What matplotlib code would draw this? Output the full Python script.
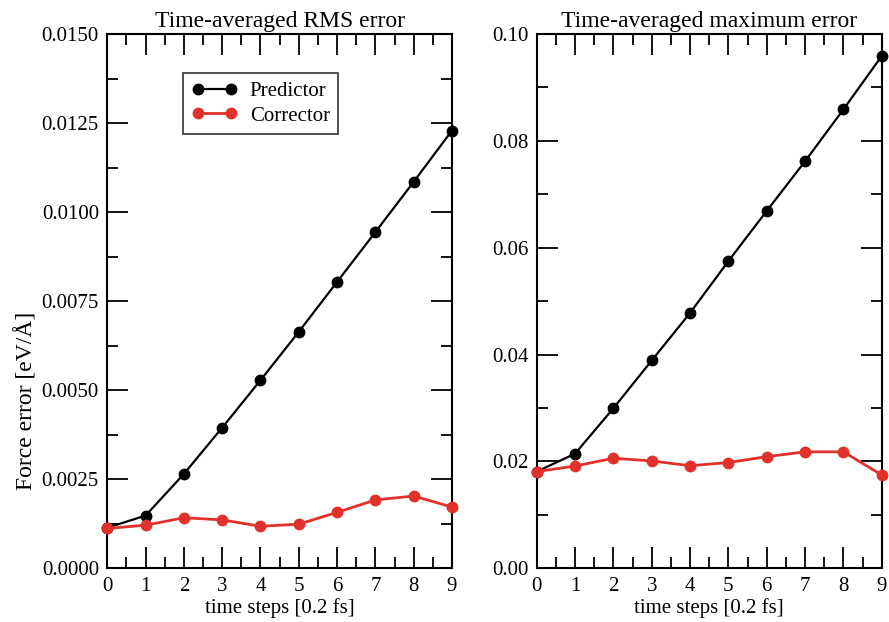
import numpy as np
import matplotlib.pyplot as plt
from matplotlib.ticker import MultipleLocator, FormatStrFormatter

plt.rcParams['font.family'] = ['Liberation Serif', 'DejaVu Serif']

steps = np.arange(10)

# time-averaged RMS force error [eV/A]
rms_predictor = [0.00114, 0.00148, 0.00265, 0.00395, 0.00528, 0.00664, 0.00804, 0.00944, 0.01085, 0.01229]
rms_corrector = [0.00112, 0.00121, 0.00142, 0.00136, 0.00118, 0.00124, 0.00157, 0.00192, 0.00203, 0.00172]

# time-averaged maximum force error [eV/A]
max_predictor = [0.0181, 0.02145, 0.02995, 0.0389, 0.0478, 0.0575, 0.0669, 0.0762, 0.0859, 0.0959]
max_corrector = [0.0181, 0.01915, 0.0206, 0.0201, 0.0192, 0.0198, 0.0209, 0.0218, 0.0218, 0.01746]

RED = '#e2312a'
FS = 15

fig = plt.figure(figsize=(8.89, 6.22), dpi=100)
ax1 = fig.add_axes([0.1207, 0.0863, 0.3877, 0.859])
ax2 = fig.add_axes([0.6037, 0.0863, 0.3882, 0.859])


def draw(ax, pred, corr, ymax, major, fmt, title):
    ax.plot(steps, pred, color='black', lw=1.6, marker='o', ms=7.5, clip_on=False, zorder=3, label='Predictor')
    ax.plot(steps, corr, color=RED, lw=2, marker='o', ms=7.5, clip_on=False, zorder=4, label='Corrector')
    ax.set_xlim(0, 9)
    ax.set_ylim(0, ymax)
    ax.xaxis.set_major_locator(MultipleLocator(1))
    ax.xaxis.set_minor_locator(MultipleLocator(0.5))
    ax.yaxis.set_major_locator(MultipleLocator(major))
    ax.yaxis.set_minor_locator(MultipleLocator(major / 2))
    ax.yaxis.set_major_formatter(FormatStrFormatter(fmt))
    ax.tick_params(which='both', direction='in', top=True, right=True, width=1.3, labelsize=FS)
    ax.tick_params(which='major', length=15, pad=6)
    ax.tick_params(which='minor', length=8)
    for s in ax.spines.values():
        s.set_linewidth(1.5)
    ax.set_xlabel('time steps [0.2 fs]', fontsize=FS, labelpad=2)
    ax.set_title(title, fontsize=FS + 2, pad=5)


draw(ax1, rms_predictor, rms_corrector, 0.015, 0.0025, '%.4f', 'Time-averaged RMS error')
draw(ax2, max_predictor, max_corrector, 0.10, 0.02, '%.2f', 'Time-averaged maximum error')

leg = ax1.legend(loc='upper left', bbox_to_anchor=(0.22, 0.927), borderaxespad=0, fontsize=FS,
                 frameon=True, fancybox=False, edgecolor='black', numpoints=2, handlelength=2.2,
                 handletextpad=0.6, borderpad=0.4, labelspacing=0.25)
leg.get_frame().set_linewidth(1.2)

fig.text(0.03, 0.355, 'Force error [eV/Å]', rotation=90, fontsize=FS + 2, ha='center', va='center')

fig.savefig('out.png', dpi=100)
